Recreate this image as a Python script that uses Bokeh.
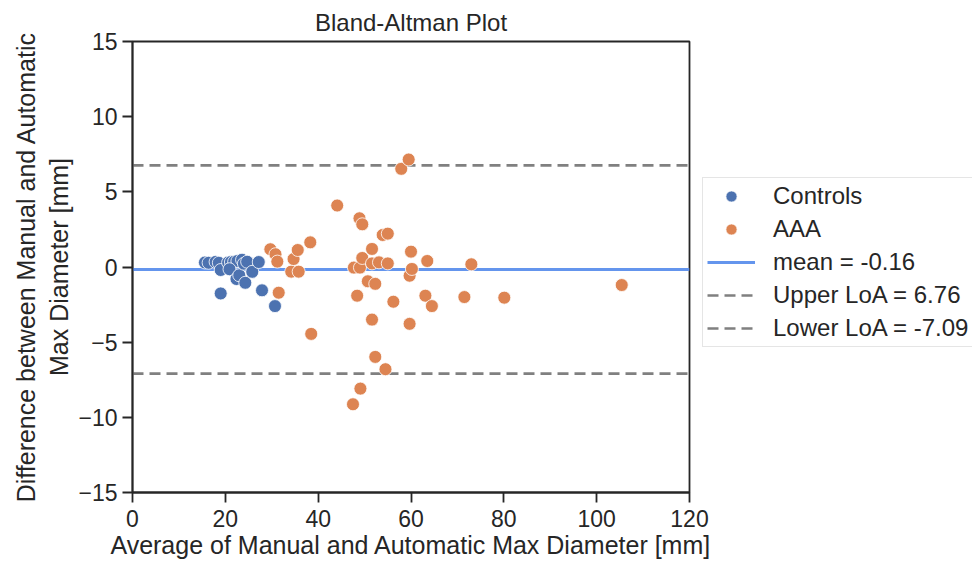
from bokeh.plotting import figure
from bokeh.models import Legend, LegendItem, FixedTicker, CustomJSTickFormatter, Range1d, ColumnDataSource
from bokeh.embed import file_html
from bokeh.resources import INLINE

# ---- data ----
controls_avg = [15.6, 16.4, 17.9, 18.6, 19.0, 19.0, 20.6, 21.2, 21.9, 22.6, 20.9,
                22.4, 23.0, 23.6, 24.0, 24.7, 24.3, 25.8, 27.2, 27.9, 30.7]
controls_diff = [0.30, 0.28, 0.34, 0.28, -0.20, -1.76, 0.30, 0.33, 0.35, 0.40, -0.15,
                 -0.80, -0.55, 0.48, 0.22, 0.35, -1.05, -0.32, 0.33, -1.55, -2.60]

aaa_avg = [29.7, 30.8, 31.2, 31.5, 34.2, 34.7, 35.6, 35.8, 38.3, 38.5, 44.1, 47.5,
           47.7, 48.4, 48.9, 49.0, 49.1, 49.5, 49.5, 50.7, 51.6, 51.6, 51.6, 52.3,
           52.3, 53.1, 53.9, 54.5, 55.0, 55.0, 56.2, 57.9, 59.5, 59.7, 59.7, 60.0,
           60.2, 63.1, 63.5, 64.5, 71.5, 73.0, 80.1, 105.4]
aaa_diff = [1.18, 0.85, 0.36, -1.71, -0.31, 0.53, 1.13, -0.31, 1.64, -4.45, 4.09, -9.13,
            -0.04, -1.91, 3.24, -0.04, -8.09, 2.84, 0.60, -0.95, 1.20, 0.24, -3.50, -1.12,
            -5.98, 0.31, 2.13, -6.80, 2.22, 0.24, -2.31, 6.53, 7.15, -0.58, -3.78, 1.02,
            -0.13, -1.91, 0.40, -2.60, -2.00, 0.18, -2.04, -1.20]

mean_diff = -0.16
upper_loa = 6.76
lower_loa = -7.09

x_limits = [0, 120]
y_limits = [-15, 15]
x_ticks = [0, 20, 40, 60, 80, 100, 120]
y_ticks = [-15, -10, -5, 0, 5, 10, 15]

FONT = "Liberation Sans"
TXT = "#262626"
BLUE = "#4C72B0"
ORANGE = "#DD8452"

p = figure(frame_width=557, frame_height=451,
           x_range=Range1d(*x_limits), y_range=Range1d(*y_limits),
           output_backend="svg", toolbar_location=None,
           min_border_left=132, min_border_top=41, min_border_bottom=74,
           min_border_right=280, title="Bland-Altman Plot")

p.title.text_font = FONT
p.title.text_font_size = "24px"
p.title.text_font_style = "normal"
p.title.text_color = TXT
p.title.align = "center"
p.title.standoff = 12

p.xgrid.visible = False
p.ygrid.visible = False
p.outline_line_color = TXT
p.outline_line_width = 1.8
p.outline_line_alpha = 1.0

fmt = CustomJSTickFormatter(code="return tick < 0 ? '\\u2212' + Math.abs(tick) : String(tick);")
for ax, ticks in ((p.xaxis[0], x_ticks), (p.yaxis[0], y_ticks)):
    ax.ticker = FixedTicker(ticks=ticks)
    ax.formatter = fmt
    ax.major_tick_out = 10
    ax.major_tick_in = 0
    ax.minor_tick_out = 0
    ax.minor_tick_in = 0
    ax.major_tick_line_width = 1.8
    ax.major_tick_line_color = TXT
    ax.axis_line_width = 1.8
    ax.axis_line_color = TXT
    ax.major_label_text_font = FONT
    ax.major_label_text_font_size = "23px"
    ax.major_label_text_color = TXT
    ax.axis_label_text_font = FONT
    ax.axis_label_text_font_size = "25px"
    ax.axis_label_text_font_style = "normal"
    ax.axis_label_text_color = TXT

p.xaxis.axis_label = "Average of Manual and Automatic Max Diameter [mm]"
p.yaxis.axis_label = "Difference between Manual and Automatic\nMax Diameter [mm]"
p.xaxis.major_label_standoff = 7
p.yaxis.major_label_standoff = 5
p.xaxis.axis_label_standoff = 1
p.yaxis.axis_label_standoff = 2

# reference lines across the full x range
r_mean = p.line(x=x_limits, y=[mean_diff, mean_diff], line_color="#6495ED", line_width=3)
r_up = p.line(x=x_limits, y=[upper_loa, upper_loa], line_color="#808080", line_width=2.7,
              line_dash="11 6")
r_lo = p.line(x=x_limits, y=[lower_loa, lower_loa], line_color="#808080", line_width=2.7,
              line_dash="11 6")

src_c = ColumnDataSource(dict(x=controls_avg, y=controls_diff))
src_a = ColumnDataSource(dict(x=aaa_avg, y=aaa_diff))
r_c = p.scatter("x", "y", source=src_c, size=13, fill_color=BLUE, line_color="white",
                line_width=0.8)
r_a = p.scatter("x", "y", source=src_a, size=13, fill_color=ORANGE, line_color="white",
                line_width=0.8)

legend = Legend(items=[
    LegendItem(label="Controls", renderers=[r_c]),
    LegendItem(label="AAA", renderers=[r_a]),
    LegendItem(label="mean = %.2f" % mean_diff, renderers=[r_mean]),
    LegendItem(label="Upper LoA = %.2f" % upper_loa, renderers=[r_up]),
    LegendItem(label="Lower LoA = %.2f" % lower_loa, renderers=[r_lo]),
], location=(13, 145), margin=0, padding=4, spacing=5,
   glyph_width=48, glyph_height=28, label_height=28, label_standoff=18, label_width=184,
   label_text_font=FONT, label_text_font_size="24px", label_text_color=TXT,
   border_line_color="#cccccc", border_line_width=1.2, background_fill_alpha=1.0)
p.add_layout(legend, "right")

open("out.html", "w").write(file_html(p, INLINE))
